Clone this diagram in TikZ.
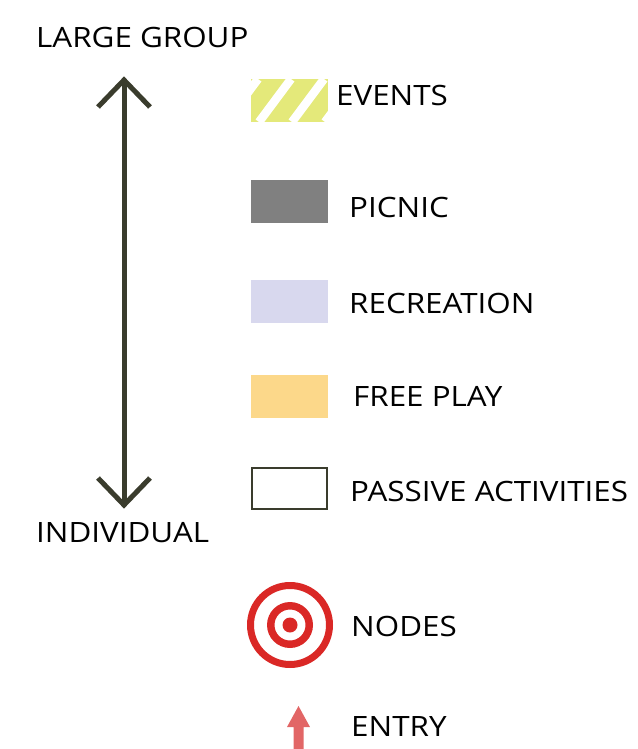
\documentclass[tikz,border=0pt]{standalone}
\usepackage{fontspec}
\setmainfont[FakeStretch=1.12]{Open Sans}
\begin{document}
\begin{tikzpicture}[x=1pt,y=-1pt,
  lbl/.style={anchor=base west,inner sep=0pt,font=\fontsize{28}{30}\selectfont},
  swatch/.style={minimum width=77pt,minimum height=43pt,inner sep=0pt,draw=none},
  axis/.style={line width=5pt,draw=axiscol},
]
\definecolor{axiscol}{RGB}{58,60,45}
\definecolor{evcol}{RGB}{228,233,122}
\definecolor{piccol}{RGB}{128,128,128}
\definecolor{reccol}{RGB}{216,216,238}
\definecolor{freecol}{RGB}{252,216,138}
\definecolor{nodecol}{RGB}{218,40,38}
\definecolor{entrycol}{RGB}{226,102,102}
\useasboundingbox (0,0) rectangle (637,749);
% scale axis
\coordinate (top) at (124,80);
\coordinate (bot) at (124,505);
\draw[axis] (top) -- (bot);
\draw[axis,miter limit=10] ([shift={(-26,27)}]top) -- (top) -- ([shift={(26,27)}]top);
\draw[axis,miter limit=10] ([shift={(-26,-27)}]bot) -- (bot) -- ([shift={(26,-27)}]bot);
\node[lbl] (lg) at (36,48) {LARGE GROUP};
\node[lbl] (ind) at (36,542) {INDIVIDUAL};
% events swatch
\node[swatch,fill=evcol] (ev) at (289.5,100.5) {};
\begin{scope}
\clip (ev.north west) rectangle (ev.south east);
\foreach \b in {226,259,292,325}{
  \draw[white,line width=8.5pt] (\b,122) -- (\b+32,79);
}
\end{scope}
\node[lbl] (evt) at (336,106) {EVENTS};
% other swatches
\node[swatch,fill=piccol] (pic) at (289.5,201) {};
\node[lbl] (pict) at (349,217) {PICNIC};
\node[swatch,fill=reccol] (rec) at (289.5,301) {};
\node[lbl] (rect) at (349,313) {RECREATION};
\node[swatch,fill=freecol] (free) at (289.5,396) {};
\node[lbl] (freet) at (353,406) {FREE PLAY};
\node[swatch,draw=axiscol,line width=2pt,minimum width=75pt,minimum height=41pt] (pas) at (289.5,488) {};
\node[lbl] (past) at (350,501) {PASSIVE ACTIVITIES};
% nodes target
\coordinate (tg) at (290,625);
\fill[nodecol,even odd rule] (tg) circle (43) (tg) circle (36) (tg) circle (23) (tg) circle (15.5) (tg) circle (7.5);
\node[lbl] (nodt) at (351,636) {NODES};
% entry arrow
\coordinate (en) at (298.5,706);
\fill[entrycol] (en) -- ++(11.5,21) -- ++(-6.5,0) -- ++(0,22) -- ++(-10,0) -- ++(0,-22) -- ++(-6.5,0) -- cycle;
\node[lbl] (ent) at (351,736) {ENTRY};
\end{tikzpicture}
\end{document}
